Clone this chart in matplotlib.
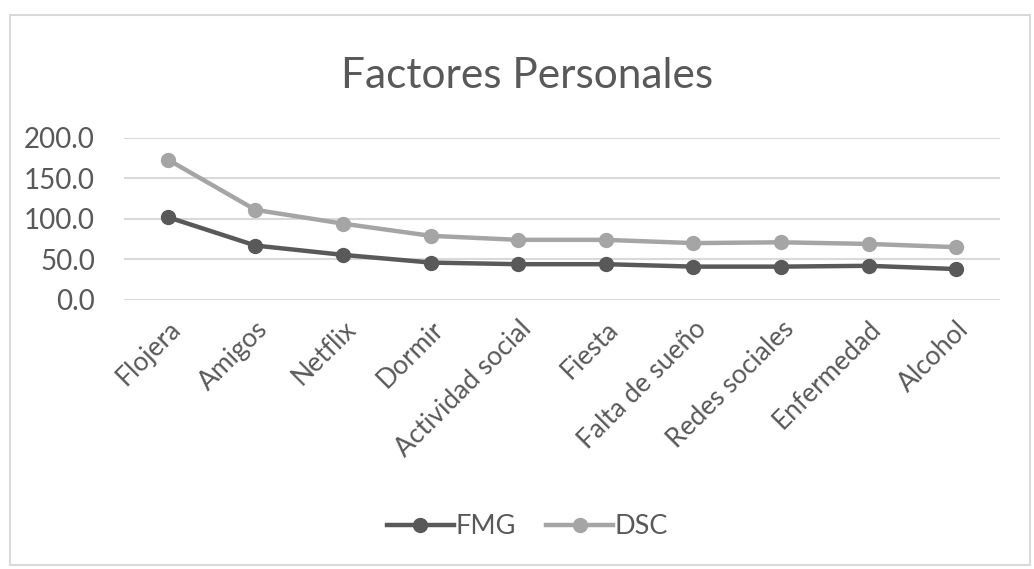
import matplotlib.pyplot as plt
from matplotlib.patches import Rectangle

# Data
categorias = ['Flojera', 'Amigos', 'Netflix', 'Dormir', 'Actividad social',
              'Fiesta', 'Falta de sueño', 'Redes sociales', 'Enfermedad', 'Alcohol']
fmg = [102.0, 67.0, 55.5, 46.0, 44.0, 44.0, 41.0, 41.0, 42.0, 38.0]
dsc = [173.0, 111.0, 94.0, 79.0, 74.0, 74.0, 70.0, 71.0, 69.0, 65.0]
yticks = [0, 50, 100, 150, 200]

plt.rcParams['font.family'] = ['Lato', 'DejaVu Sans']
text_color = '#595959'
grid_color = '#d9d9d9'

fig = plt.figure(figsize=(10.34, 5.69), dpi=100)
ax = fig.add_axes([0.12, 0.473, 0.847, 0.285])

x = range(len(categorias))
ax.plot(x, fmg, color='#595959', lw=3.2, marker='o', ms=10, label='FMG')
ax.plot(x, dsc, color='#a5a5a5', lw=3.2, marker='o', ms=10, label='DSC')

ax.set_xlim(-0.5, len(categorias) - 0.5)
ax.set_ylim(0, 200)
ax.set_yticks(yticks)
ax.set_yticklabels([f'{v:.1f}' for v in yticks], fontsize=20, color=text_color)
ax.set_xticks(list(x))
ax.set_xticklabels(categorias, rotation=45, ha='right', rotation_mode='anchor',
                   fontsize=19, color=text_color)
ax.tick_params(axis='y', length=0, pad=21)
ax.tick_params(axis='x', length=0, pad=12)
ax.yaxis.grid(True, color=grid_color, lw=1.5)
ax.set_axisbelow(True)
for s in ax.spines.values():
    s.set_visible(False)

fig.text(0.51, 0.866, 'Factores Personales', ha='center', va='center',
         fontsize=30.5, color=text_color)

fig.legend(loc='center', bbox_to_anchor=(0.51, 0.074), ncol=2, frameon=False,
           fontsize=19.5, labelcolor=text_color, handlelength=2.5,
           handletextpad=0.05, columnspacing=1.1)

# light chart border like the Excel chart area
fig.patches.append(Rectangle((10 / 1034, 4 / 569), 1020 / 1034, 550 / 569,
                             transform=fig.transFigure, fill=False,
                             edgecolor=grid_color, lw=1.5))

fig.savefig('out.png', dpi=100)
